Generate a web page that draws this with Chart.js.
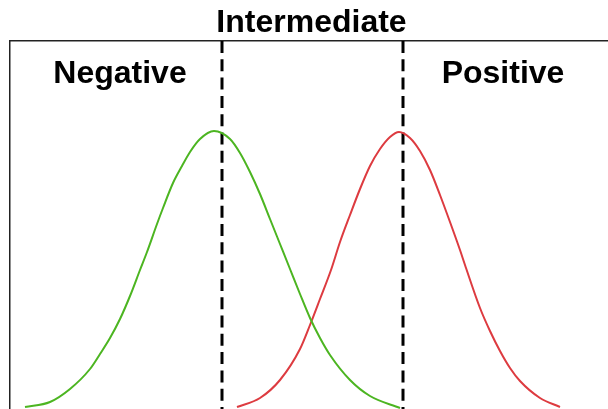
<!DOCTYPE html>
<html lang="en">
<head>
  <meta charset="UTF-8" />
  <title>Negative / Intermediate / Positive</title>
  <script src="https://cdn.jsdelivr.net/npm/chart.js"></script>
  <style>
    body {
      margin: 0;
      background: #fff;
    }
    #wrap {
      width: 608px;
      height: 409px;
    }
  </style>
</head>
<body>
  <div id="wrap"><canvas id="chart" width="608" height="409"></canvas></div>

  <script>
    // curve samples (x position, height above baseline)
    const negX = [25, 50, 70, 90, 100, 110, 120, 130, 140, 147, 157, 163, 173, 182, 190, 200, 214, 230, 240, 250, 260, 270, 280, 290, 300, 310, 320, 330, 350, 370, 400];
    const negY = [2, 7, 20, 40, 55, 71, 90, 113, 139, 157, 185, 201, 226, 243, 257, 270, 278, 270, 256, 237, 215, 190, 165, 140, 115, 91, 71, 54, 29, 13, 1];

    const posX = [237, 260, 280, 300, 310, 320, 331, 340, 350, 360, 370, 380, 390, 399, 410, 420, 430, 440, 450, 460, 465, 480, 490, 500, 510, 520, 540, 560];
    const posY = [2, 11, 29, 60, 84, 110, 139, 167, 194, 220, 243, 260, 272, 277, 271, 258, 239, 214, 187, 159, 144, 101, 78, 58, 41, 28, 11, 2];

    // dashed cut-off lines
    const cutoffs = [222, 403];

    // region labels and where they sit (data units)
    const labelText = ['Negative', 'Intermediate', 'Positive'];
    const labelX = [120, 311.5, 503];
    const labelY = [326, 377, 326];

    const xMin = 10, xMax = 608, yMin = 0, yMax = 368;

    const pts = (xs, ys) => xs.map((x, i) => ({ x: x, y: ys[i] }));

    const curve = (data, color) => ({
      data: data,
      borderColor: color,
      borderWidth: 2,
      pointRadius: 0,
      tension: 0.4,
      cubicInterpolationMode: 'monotone',
      fill: false
    });

    const datasets = [
      curve(pts(negX, negY), '#4cb521'),
      curve(pts(posX, posY), '#dd3b40')
    ];

    cutoffs.forEach(c => {
      datasets.push({
        data: [{ x: c, y: yMax }, { x: c, y: yMin }],
        borderColor: '#000',
        borderWidth: 3,
        borderDash: [12, 6.3],
        pointRadius: 0,
        fill: false
      });
    });

    const labelPlugin = {
      id: 'regionLabels',
      afterDatasetsDraw(chart) {
        const ctx = chart.ctx;
        const xs = chart.scales.x;
        const ys = chart.scales.y;
        ctx.save();
        ctx.fillStyle = '#000';
        ctx.font = 'bold 32px "Liberation Sans", Arial, sans-serif';
        ctx.textAlign = 'center';
        ctx.textBaseline = 'alphabetic';
        labelText.forEach((t, i) => {
          ctx.fillText(t, xs.getPixelForValue(labelX[i]), ys.getPixelForValue(labelY[i]));
        });
        ctx.restore();
      }
    };

    new Chart(document.getElementById('chart').getContext('2d'), {
      type: 'line',
      data: { datasets: datasets },
      options: {
        responsive: false,
        animation: false,
        clip: false,
        layout: { padding: { left: 10, top: 41, right: 0, bottom: 0 } },
        plugins: {
          legend: { display: false },
          tooltip: { enabled: false }
        },
        scales: {
          x: {
            type: 'linear',
            position: 'top',
            min: xMin,
            max: xMax,
            grid: { display: false, drawTicks: false },
            border: { display: true, color: '#222', width: 1.5 },
            ticks: { display: false }
          },
          y: {
            min: yMin,
            max: yMax,
            grid: { display: false, drawTicks: false },
            border: { display: true, color: '#222', width: 1.5 },
            ticks: { display: false }
          }
        }
      },
      plugins: [labelPlugin]
    });
  </script>
</body>
</html>
